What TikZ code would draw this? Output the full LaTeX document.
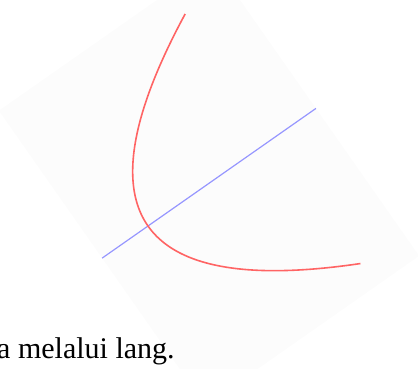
\documentclass[tikz,border=0pt]{standalone}
\usepackage{fontspec}
\setmainfont{Liberation Serif}
\definecolor{planegray}{RGB}{252,252,252}
\definecolor{curvered}{RGB}{255,100,100}
\definecolor{axisblue}{RGB}{150,150,255}
\begin{document}
\begin{tikzpicture}[x=1pt,y=1pt,
  planefill/.style={fill=planegray, draw=none},
  axisline/.style={draw=axisblue, line width=1.2pt},
  curveline/.style={draw=curvered, line width=1.6pt},
  captext/.style={font=\fontsize{30pt}{36pt}\selectfont, inner sep=0pt, text=black}]
\useasboundingbox (0,-368) rectangle (418,0);
\begin{scope}[shift={(148,-226)}, rotate=35]
  \path[planefill] (-56,-180) rectangle (205,180);
  \coordinate (axisstart) at (-56,0);
  \coordinate (axisend) at (205,0);
  \draw[axisline] (axisstart) -- (axisend);
  \draw[curveline] plot[domain=-1:1, samples=100, smooth] ({152.5*\x*\x},{152.6*\x});
\end{scope}
\node[captext, anchor=base west] (caption) at (-3,-358) {a melalui lang.};
\end{tikzpicture}
\end{document}
